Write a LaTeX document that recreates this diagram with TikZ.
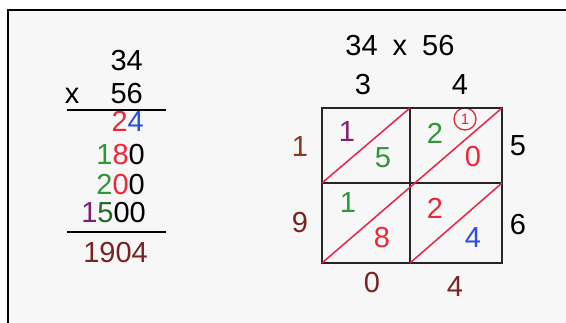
\documentclass[tikz,border=0pt]{standalone}
\usepackage{fontspec}
\setmainfont{Liberation Sans}
\usetikzlibrary{positioning}

\definecolor{digred}{RGB}{236,40,56}
\definecolor{diagred}{RGB}{232,36,72}
\definecolor{digblue}{RGB}{40,80,225}
\definecolor{diggreen}{RGB}{48,150,60}
\definecolor{digpurple}{RGB}{130,30,120}
\definecolor{digbrown}{RGB}{120,36,36}
\definecolor{sideorange}{RGB}{140,55,30}

\tikzset{
    num/.style={inner sep=0pt, font=\fontsize{29}{31}\selectfont},
    gridline/.style={line width=2pt, black!85},
    diagline/.style={line width=1.5pt, diagred},
}

\begin{document}
\begin{tikzpicture}[x=1pt, y=-1pt]
    \useasboundingbox (0,0) rectangle (566,323);
    % Frame
    \fill[black!3] (8,10) rectangle (566,323);
    \draw[line width=2pt] (8,323) -- (8,10) -- (566,10);

    % Long multiplication
    \node[num, anchor=base east] (top) at (143,71) {34};
    \node[num, anchor=base east] (bottom) at (143,104) {56};
    \node[num, anchor=base] (times) at (72,104) {x};
    \coordinate (rule1a) at (67,110);
    \coordinate (rule1b) at (166,110);
    \node[num, anchor=base east] (p1) at (144,132) {{\color{digred}2}{\color{digblue}4}};
    \node[num, anchor=base east] (p2) at (145,165) {{\color{diggreen}1}{\color{digred}8}0};
    \node[num, anchor=base east] (p3) at (145,195) {{\color{diggreen}2}{\color{digred}0}0};
    \node[num, anchor=base east] (p4) at (146,223) {{\color{digpurple}1}{\color{diggreen!70!black}5}00};
    \coordinate (rule2a) at (67,232);
    \coordinate (rule2b) at (166,232);
    \node[num, anchor=base east, text=digbrown] (sum) at (148,263) {1904};
    \draw[line width=1.5pt] (rule1a) -- (rule1b);
    \draw[line width=1.5pt] (rule2a) -- (rule2b);

    % Lattice
    \foreach \i/\x in {0/322,1/410,2/502}
        \foreach \j/\y in {0/108,1/183,2/263}
            \coordinate (g\i\j) at (\x,\y);

    \node[num] (title) at (400,46) {34\hspace{15pt}x\hspace{15pt}56};
    \node[num] (top3) at (363,85) {3};
    \node[num] (top4) at (460,85) {4};
    \node[num, text=sideorange] (left1) at (300,147) {1};
    \node[num, text=digbrown] (left9) at (300,223) {9};
    \node[num] (right5) at (518,146) {5};
    \node[num] (right6) at (518,225) {6};
    \node[num, text=digbrown] (bot0) at (372,283) {0};
    \node[num, text=digbrown] (bot4) at (455,287) {4};

    % Cells
    \node[num, text=digpurple] (c1) at (347,132) {1};
    \node[num, text=diggreen] (c2) at (383,158) {5};
    \node[num, text=diggreen] (c3) at (435,133) {2};
    \node[num, text=digred] (c4) at (473,157) {0};
    \node[num, text=diggreen] (c5) at (348,203) {1};
    \node[num, text=digred] (c6) at (382,238) {8};
    \node[num, text=digred] (c7) at (435,208) {2};
    \node[num, text=digblue] (c8) at (473,238) {4};
    \node[circle, draw=digred, line width=1.3pt, inner sep=0pt, minimum size=22pt,
          text=digred, font=\fontsize{15}{15}\selectfont] (carry) at (465,119) {1};

    % Lines
    \draw[gridline] (g00) rectangle (g22);
    \draw[gridline] (g10) -- (g12);
    \draw[gridline] (g01) -- (g21);
    \draw[diagline] (g01) -- (g10);
    \draw[diagline] (g02) -- (g20);
    \draw[diagline] (g12) -- (g21);
\end{tikzpicture}
\end{document}
